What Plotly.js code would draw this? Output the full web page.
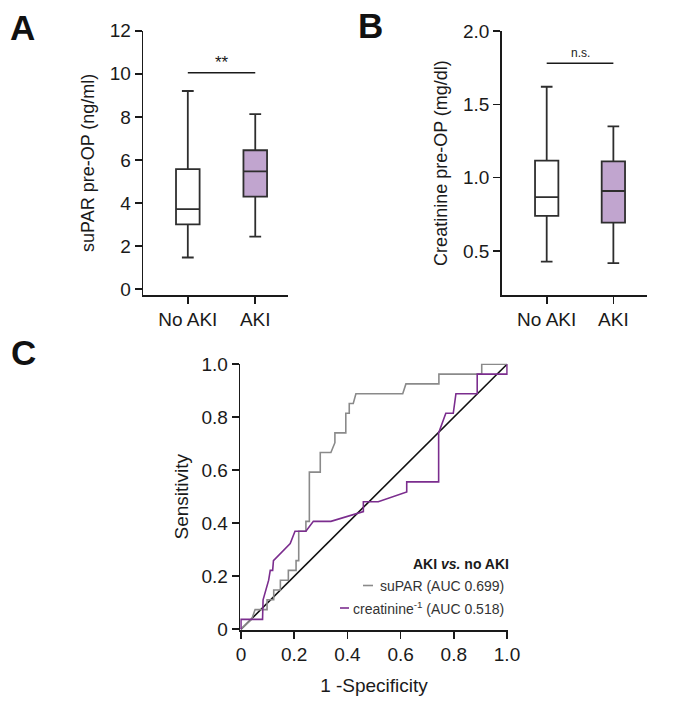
<!DOCTYPE html>
<html>
<head>
<meta charset="utf-8">
<script src="https://cdn.plot.ly/plotly-3.0.1.min.js"></script>
<style>html,body{margin:0;padding:0;background:#fff;}#chart{width:692px;height:705px;}</style>
</head>
<body>
<div id="chart"></div>
<script>
// ---- Data ----
var groups = ['No AKI', 'AKI'];

// Panel A: suPAR pre-OP (ng/ml)
var suparLower = [1.47, 2.44];
var suparQ1 = [3.01, 4.30];
var suparMedian = [3.72, 5.47];
var suparQ3 = [5.57, 6.45];
var suparUpper = [9.20, 8.13];
var suparSigY = 10.05;
var suparSigText = '**';

// Panel B: Creatinine pre-OP (mg/dl)
var creaLower = [0.427, 0.418];
var creaQ1 = [0.739, 0.693];
var creaMedian = [0.868, 0.909];
var creaQ3 = [1.116, 1.111];
var creaUpper = [1.62, 1.35];
var creaSigY = 1.78;
var creaSigText = 'n.s.';

// Panel C: ROC curves (1 - specificity, sensitivity)
var suparFPR = [0, 0.04, 0.053, 0.098, 0.098, 0.123, 0.123, 0.148, 0.148, 0.178, 0.178, 0.207, 0.207, 0.217, 0.217, 0.244, 0.244, 0.257, 0.257, 0.298, 0.298, 0.338, 0.353, 0.353, 0.394, 0.394, 0.407, 0.407, 0.422, 0.432, 0.608, 0.620, 0.744, 0.744, 0.905, 0.905, 1];
var suparTPR = [0, 0.037, 0.074, 0.074, 0.111, 0.111, 0.148, 0.148, 0.185, 0.185, 0.222, 0.222, 0.259, 0.259, 0.370, 0.370, 0.407, 0.407, 0.593, 0.593, 0.667, 0.667, 0.704, 0.741, 0.741, 0.815, 0.815, 0.852, 0.852, 0.889, 0.889, 0.926, 0.926, 0.963, 0.963, 1.0, 1.0];
var creaFPR = [0, 0, 0.081, 0.083, 0.104, 0.110, 0.119, 0.122, 0.185, 0.203, 0.244, 0.272, 0.338, 0.460, 0.460, 0.516, 0.623, 0.623, 0.743, 0.743, 0.770, 0.798, 0.808, 0.888, 0.888, 1, 1];
var creaTPR = [0, 0.037, 0.037, 0.111, 0.185, 0.222, 0.222, 0.259, 0.323, 0.370, 0.370, 0.407, 0.407, 0.444, 0.481, 0.481, 0.518, 0.556, 0.556, 0.741, 0.815, 0.815, 0.889, 0.889, 0.963, 0.963, 1];
var refX = [0, 1];
var refY = [0, 1];
var rocTicks = [0, 0.2, 0.4, 0.6, 0.8, 1.0];
var rocTickText = ['0', '0.2', '0.4', '0.6', '0.8', '1.0'];
var legendTitle = '<b>AKI <i>vs.</i> no AKI</b>';
var legendNames = ['suPAR (AUC 0.699)', 'creatinine<sup>-1</sup> (AUC 0.518)'];

// ---- Styles ----
var FONT = 'Arial, "Liberation Sans", Helvetica, sans-serif';
var INK = '#1a1a1a';
var BOXLINE = '#2e2e2e';
var PURPLE_FILL = '#c1a5cf';
var GREY_LINE = '#8a8a8a';
var PURPLE_LINE = '#7b2d8e';
var W = 692, H = 705;
function px(x) { return x / W; }
function py(y) { return (H - y) / H; }

function boxTrace(i, q1, med, q3, lo, hi, fill, xa, ya) {
  return {
    type: 'box', x: [groups[i]], q1: [q1[i]], median: [med[i]], q3: [q3[i]],
    lowerfence: [lo[i]], upperfence: [hi[i]],
    fillcolor: fill, line: { color: BOXLINE, width: 1.8 },
    width: 0.35, whiskerwidth: 0.5, boxpoints: false,
    xaxis: xa, yaxis: ya, showlegend: false, hoverinfo: 'skip'
  };
}

var traces = [
  boxTrace(0, suparQ1, suparMedian, suparQ3, suparLower, suparUpper, '#ffffff', 'x', 'y'),
  boxTrace(1, suparQ1, suparMedian, suparQ3, suparLower, suparUpper, PURPLE_FILL, 'x', 'y'),
  boxTrace(0, creaQ1, creaMedian, creaQ3, creaLower, creaUpper, '#ffffff', 'x2', 'y2'),
  boxTrace(1, creaQ1, creaMedian, creaQ3, creaLower, creaUpper, PURPLE_FILL, 'x2', 'y2'),
  { type: 'scatter', mode: 'lines', x: refX, y: refY, line: { color: '#111', width: 1.6 },
    xaxis: 'x3', yaxis: 'y3', showlegend: false, hoverinfo: 'skip' },
  { type: 'scatter', mode: 'lines', x: suparFPR, y: suparTPR, line: { color: GREY_LINE, width: 1.6 },
    xaxis: 'x3', yaxis: 'y3', showlegend: false, hoverinfo: 'skip' },
  { type: 'scatter', mode: 'lines', x: creaFPR, y: creaTPR, line: { color: PURPLE_LINE, width: 1.6 },
    xaxis: 'x3', yaxis: 'y3', showlegend: false, hoverinfo: 'skip' }
];

var baseAxis = {
  showline: true, linecolor: INK, linewidth: 1.6, ticks: 'outside', ticklen: 7,
  tickwidth: 1.6, tickcolor: INK, showgrid: false, zeroline: false,
  tickfont: { family: FONT, size: 19, color: INK }, automargin: false, fixedrange: true
};
function ax(extra) { return Object.assign({}, baseAxis, extra); }

var layout = {
  width: W, height: H,
  margin: { l: 0, r: 0, t: 0, b: 0 },
  paper_bgcolor: '#fff', plot_bgcolor: 'rgba(0,0,0,0)',
  font: { family: FONT, color: INK },
  showlegend: false,
  xaxis: ax({ domain: [px(143.3), px(288.3)], anchor: 'y', type: 'category',
    categoryorder: 'array', categoryarray: groups, range: [-0.66, 1.49] }),
  yaxis: ax({ domain: [py(295), py(30.7)], anchor: 'x', range: [-0.27, 12], tickvals: [0, 2, 4, 6, 8, 10, 12],
    title: { text: 'suPAR pre-OP (ng/ml)', font: { family: FONT, size: 18, color: INK }, standoff: 10 } }),
  xaxis2: ax({ domain: [px(501.7), px(646.7)], anchor: 'y2', type: 'category',
    categoryorder: 'array', categoryarray: groups, range: [-0.675, 1.5] }),
  yaxis2: ax({ domain: [py(295), py(31)], anchor: 'x2', range: [0.2, 2.0], tickvals: [0.5, 1.0, 1.5, 2.0],
    ticktext: ['0.5', '1.0', '1.5', '2.0'],
    title: { text: 'Creatinine pre-OP (mg/dl)', font: { family: FONT, size: 18, color: INK }, standoff: 10 } }),
  xaxis3: ax({ domain: [px(240.2), px(507.8)], anchor: 'y3', range: [-0.003, 1.003],
    tickvals: rocTicks, ticktext: rocTickText,
    title: { text: '1 -Specificity', font: { family: FONT, size: 19, color: INK }, standoff: 14 } }),
  yaxis3: ax({ domain: [py(630), py(363.5)], anchor: 'x3', range: [-0.003, 1.003],
    tickvals: rocTicks, ticktext: rocTickText,
    title: { text: 'Sensitivity', font: { family: FONT, size: 19, color: INK }, standoff: 8 } }),
  shapes: [
    { type: 'line', xref: 'x', yref: 'y', x0: 0, x1: 1, y0: suparSigY, y1: suparSigY, line: { color: INK, width: 1.6 } },
    { type: 'line', xref: 'x2', yref: 'y2', x0: 0, x1: 1, y0: creaSigY, y1: creaSigY, line: { color: INK, width: 1.6 } },
    { type: 'line', xref: 'paper', yref: 'paper', x0: px(363), x1: px(373), y0: py(585.5), y1: py(585.5), line: { color: GREY_LINE, width: 1.6 } },
    { type: 'line', xref: 'paper', yref: 'paper', x0: px(340), x1: px(349), y0: py(608), y1: py(608), line: { color: PURPLE_LINE, width: 1.6 } }
  ],
  annotations: [
    { xref: 'x', yref: 'y', x: 0.5, y: suparSigY, text: suparSigText, showarrow: false, yanchor: 'bottom', yshift: -1,
      font: { family: FONT, size: 17, color: INK } },
    { xref: 'x2', yref: 'y2', x: 0.5, y: creaSigY, text: creaSigText, showarrow: false, yanchor: 'bottom', yshift: 1,
      font: { family: FONT, size: 12, color: INK } },
    { xref: 'paper', yref: 'paper', x: px(511), y: py(564), text: legendTitle, showarrow: false, xanchor: 'right', yanchor: 'middle',
      font: { family: FONT, size: 14, color: INK } },
    { xref: 'paper', yref: 'paper', x: px(506), y: py(585.5), text: legendNames[0], showarrow: false, xanchor: 'right', yanchor: 'middle',
      font: { family: FONT, size: 14, color: '#333333' } },
    { xref: 'paper', yref: 'paper', x: px(506), y: py(608), text: legendNames[1], showarrow: false, xanchor: 'right', yanchor: 'middle',
      font: { family: FONT, size: 14, color: '#333333' } },
    { xref: 'paper', yref: 'paper', x: px(23), y: py(27), text: '<b>A</b>', showarrow: false, xanchor: 'center', yanchor: 'middle',
      font: { family: FONT, size: 35, color: '#111' } },
    { xref: 'paper', yref: 'paper', x: px(370), y: py(25), text: '<b>B</b>', showarrow: false, xanchor: 'center', yanchor: 'middle',
      font: { family: FONT, size: 35, color: '#111' } },
    { xref: 'paper', yref: 'paper', x: px(24), y: py(352), text: '<b>C</b>', showarrow: false, xanchor: 'center', yanchor: 'middle',
      font: { family: FONT, size: 35, color: '#111' } }
  ]
};

Plotly.newPlot('chart', traces, layout, { staticPlot: true, displayModeBar: false });
</script>
</body>
</html>
